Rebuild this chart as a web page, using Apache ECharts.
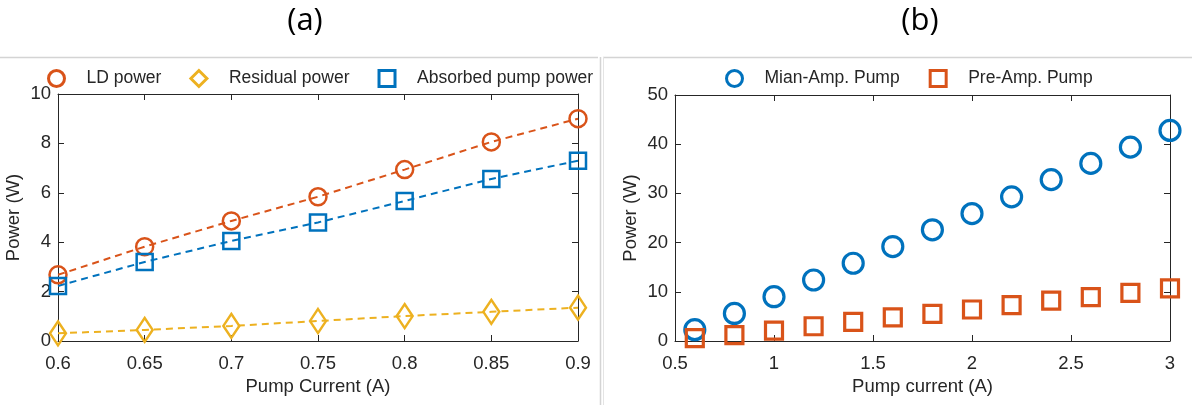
<!DOCTYPE html>
<html>
<head>
<meta charset="utf-8">
<script src="https://cdn.jsdelivr.net/npm/echarts@6/dist/echarts.min.js"></script>
<style>
  html, body { margin: 0; padding: 0; background: #fff; }
  #chart { width: 1192px; height: 405px; }
</style>
</head>
<body>
<div id="chart"></div>
<script>
// Panel (a): pump-current sweep of the laser diode
const currentA = [0.6, 0.65, 0.7, 0.75, 0.8, 0.85, 0.9];
const ldPower = [2.68, 3.82, 4.86, 5.84, 6.94, 8.06, 9.0];
const residualPower = [0.31, 0.45, 0.61, 0.81, 1.01, 1.18, 1.35];
const absorbedPower = [2.23, 3.2, 4.05, 4.8, 5.67, 6.56, 7.3];

// Panel (b): main and pre-amplifier pump power
const currentB = [0.6, 0.8, 1.0, 1.2, 1.4, 1.6, 1.8, 2.0, 2.2, 2.4, 2.6, 2.8, 3.0];
const mainAmpPump = [2.3, 5.6, 9.0, 12.4, 15.8, 19.2, 22.6, 25.9, 29.3, 32.8, 36.1, 39.4, 42.8];
const preAmpPump = [0.6, 1.2, 2.1, 3.0, 3.9, 4.8, 5.5, 6.4, 7.3, 8.2, 8.9, 9.8, 10.7];

const C_ORANGE = '#D95319';
const C_YELLOW = '#EDB120';
const C_BLUE = '#0072BD';
const AXIS_COL = '#262626';
const FONT = 'Liberation Sans, Arial, sans-serif';
const CLEAR = 'rgba(255,255,255,0)';

const pairs = (xs, ys) => xs.map((x, i) => [x, ys[i]]);

function mainX(grid, min, max, interval, name, decimals) {
  return {
    type: 'value', gridIndex: grid, min, max, interval,
    name, nameLocation: 'middle', nameGap: 36,
    nameTextStyle: { color: AXIS_COL, fontSize: 18.5, fontFamily: FONT },
    axisLine: { show: true, lineStyle: { color: AXIS_COL, width: 1 } },
    axisTick: { show: true, inside: true, length: 6, lineStyle: { color: AXIS_COL } },
    axisLabel: { color: AXIS_COL, fontSize: 18.5, fontFamily: FONT, margin: 13,
      formatter: v => decimals ? String(+v.toFixed(decimals)) : String(v) },
    splitLine: { show: false }
  };
}
function topX(grid, min, max, interval) {
  return {
    type: 'value', gridIndex: grid, position: 'top', min, max, interval,
    axisLine: { show: true, onZero: false, lineStyle: { color: AXIS_COL, width: 1 } },
    axisTick: { show: true, inside: true, length: 6, lineStyle: { color: AXIS_COL } },
    axisLabel: { show: false }, splitLine: { show: false }
  };
}
function mainY(grid, min, max, interval, name) {
  return {
    type: 'value', gridIndex: grid, min, max, interval,
    name, nameLocation: 'middle', nameGap: 35,
    nameTextStyle: { color: AXIS_COL, fontSize: 18.5, fontFamily: FONT },
    axisLine: { show: true, onZero: false, lineStyle: { color: AXIS_COL, width: 1 } },
    axisTick: { show: true, inside: true, length: 6, lineStyle: { color: AXIS_COL } },
    axisLabel: { color: AXIS_COL, fontSize: 18.5, fontFamily: FONT, margin: 7 },
    splitLine: { show: false }
  };
}
function rightY(grid, min, max, interval) {
  return {
    type: 'value', gridIndex: grid, position: 'right', min, max, interval,
    axisLine: { show: true, onZero: false, lineStyle: { color: AXIS_COL, width: 1 } },
    axisTick: { show: true, inside: true, length: 6, lineStyle: { color: AXIS_COL } },
    axisLabel: { show: false }, splitLine: { show: false }
  };
}
function legendItem(name, icon, color) {
  return { name, icon, itemStyle: { color: CLEAR, borderColor: color, borderWidth: 3, opacity: 1 } };
}

const chart = echarts.init(document.getElementById('chart'), null, { renderer: 'canvas' });

chart.setOption({
  backgroundColor: '#ffffff',
  animation: false,
  title: [
    { text: '(a)', left: 300, top: 1, textAlign: 'center',
      textStyle: { fontFamily: 'Open Sans, Noto Sans, sans-serif', fontWeight: 'normal', fontSize: 31, color: '#000' } },
    { text: '(b)', left: 915, top: 1, textAlign: 'center',
      textStyle: { fontFamily: 'Open Sans, Noto Sans, sans-serif', fontWeight: 'normal', fontSize: 31, color: '#000' } }
  ],
  graphic: [
    { type: 'line', shape: { x1: 0, y1: 57.5, x2: 598, y2: 57.5 }, style: { stroke: '#d4d4d4', lineWidth: 1.5 } },
    { type: 'line', shape: { x1: 603, y1: 57.5, x2: 1192, y2: 57.5 }, style: { stroke: '#d4d4d4', lineWidth: 1.5 } },
    { type: 'line', shape: { x1: 600.5, y1: 57, x2: 600.5, y2: 405 }, style: { stroke: '#d4d4d4', lineWidth: 1.5 } },
    { type: 'line', shape: { x1: 603.5, y1: 57, x2: 603.5, y2: 405 }, style: { stroke: '#e4e4e4', lineWidth: 1 } }
  ],
  legend: [
    {
      left: 47, top: 69, padding: 0, itemGap: 28, itemWidth: 16, itemHeight: 16,
      textStyle: { color: AXIS_COL, fontSize: 17.5, fontFamily: FONT, padding: [0, 0, 0, 17] },
      data: [
        legendItem('LD power', 'circle', C_ORANGE),
        legendItem('Residual power', 'diamond', C_YELLOW),
        legendItem('Absorbed pump power', 'rect', C_BLUE)
      ]
    },
    {
      left: 725, top: 69, padding: 0, itemGap: 29, itemWidth: 16, itemHeight: 16,
      textStyle: { color: AXIS_COL, fontSize: 17.5, fontFamily: FONT, padding: [0, 0, 0, 17] },
      data: [
        legendItem('Mian-Amp. Pump', 'circle', C_BLUE),
        legendItem('Pre-Amp. Pump', 'rect', C_ORANGE)
      ]
    }
  ],
  grid: [
    { left: 58, top: 94, width: 520, height: 247 },
    { left: 675, top: 95, width: 495, height: 246 }
  ],
  xAxis: [
    mainX(0, 0.6, 0.9, 0.05, 'Pump Current (A)', 2),
    topX(0, 0.6, 0.9, 0.05),
    mainX(1, 0.5, 3, 0.5, 'Pump current (A)', 1),
    topX(1, 0.5, 3, 0.5)
  ],
  yAxis: [
    mainY(0, 0, 10, 2, 'Power (W)'),
    rightY(0, 0, 10, 2),
    mainY(1, 0, 50, 10, 'Power (W)'),
    rightY(1, 0, 50, 10)
  ],
  series: [
    {
      name: 'LD power', type: 'line', xAxisIndex: 0, yAxisIndex: 0,
      data: pairs(currentA, ldPower),
      symbol: 'circle', symbolSize: 17,
      itemStyle: { color: CLEAR, borderColor: C_ORANGE, borderWidth: 2.5 },
      lineStyle: { color: C_ORANGE, width: 2, type: [7, 5] }
    },
    {
      name: 'Residual power', type: 'line', xAxisIndex: 0, yAxisIndex: 0,
      data: pairs(currentA, residualPower),
      symbol: 'diamond', symbolSize: [16, 24],
      itemStyle: { color: CLEAR, borderColor: C_YELLOW, borderWidth: 2.5 },
      lineStyle: { color: C_YELLOW, width: 2, type: [7, 5] }
    },
    {
      name: 'Absorbed pump power', type: 'line', xAxisIndex: 0, yAxisIndex: 0,
      data: pairs(currentA, absorbedPower),
      symbol: 'rect', symbolSize: 16,
      itemStyle: { color: CLEAR, borderColor: C_BLUE, borderWidth: 2.5 },
      lineStyle: { color: C_BLUE, width: 2, type: [7, 5] }
    },
    {
      name: 'Mian-Amp. Pump', type: 'scatter', xAxisIndex: 2, yAxisIndex: 2,
      data: pairs(currentB, mainAmpPump),
      symbol: 'circle', symbolSize: 20,
      itemStyle: { color: CLEAR, borderColor: C_BLUE, borderWidth: 3.2, opacity: 1 }
    },
    {
      name: 'Pre-Amp. Pump', type: 'scatter', xAxisIndex: 2, yAxisIndex: 2,
      data: pairs(currentB, preAmpPump),
      symbol: 'rect', symbolSize: 17,
      itemStyle: { color: CLEAR, borderColor: C_ORANGE, borderWidth: 3.2, opacity: 1 }
    }
  ]
});
</script>
</body>
</html>
